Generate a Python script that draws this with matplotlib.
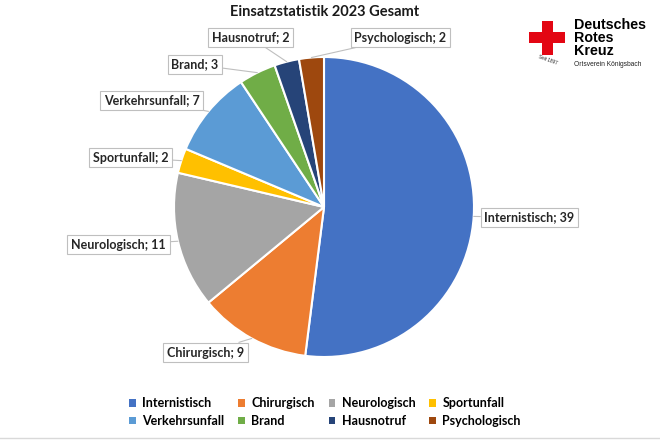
import numpy as np
import matplotlib.pyplot as plt
from matplotlib.patches import Rectangle
from matplotlib.lines import Line2D

plt.rcParams['font.family'] = ['Lato', 'DejaVu Sans']

# data
categories = ["Internistisch", "Chirurgisch", "Neurologisch", "Sportunfall",
              "Verkehrsunfall", "Brand", "Hausnotruf", "Psychologisch"]
counts = [39, 9, 11, 2, 7, 3, 2, 2]
colors = ["#4472C4", "#ED7D31", "#A5A5A5", "#FFC000",
          "#5B9BD5", "#70AD47", "#264478", "#9E480E"]

# label box centres (data units, radius = 1)
label_pos = [(1.37, -0.07), (-0.79, -0.97), (-1.37, -0.25), (-1.29, 0.33),
             (-1.15, 0.71), (-0.86, 0.95), (-0.49, 1.13), (0.51, 1.13)]

fig = plt.figure(figsize=(6.6, 4.4), dpi=100)
ax = fig.add_axes([174 / 660, 83 / 440, 300 / 660, 300 / 440])

wedges, _ = ax.pie(counts, colors=colors, startangle=90, counterclock=False,
                   wedgeprops=dict(edgecolor="white", linewidth=1.5))
ax.set_xlim(-1, 1)
ax.set_ylim(-1, 1)
ax.set_aspect("equal")

for w, cat, n, pos in zip(wedges, categories, counts, label_pos):
    ang = np.deg2rad((w.theta1 + w.theta2) / 2)
    edge = (np.cos(ang), np.sin(ang))
    ax.annotate(f"{cat}; {n}", xy=edge, xytext=pos, ha="center", va="center",
                fontsize=9, fontweight="bold", color="#262626",
                annotation_clip=False,
                bbox=dict(boxstyle="square,pad=0.3", fc="white", ec="#BFBFBF", lw=0.8),
                arrowprops=dict(arrowstyle="-", color="#BFBFBF", lw=0.8,
                                shrinkA=0, shrinkB=0))

fig.text(325 / 660, 1 - 12 / 440, "Einsatzstatistik 2023 Gesamt", ha="center",
         va="center", fontsize=10.5, fontweight="bold", color="#1a1a1a")

# legend fills column-wise, so reorder to read row-wise like the original
order = [0, 4, 1, 5, 2, 6, 3, 7]
handles = [Rectangle((0, 0), 1, 1, fc=colors[i]) for i in order]
labels = [categories[i] for i in order]
fig.legend(handles, labels, ncol=4, loc="center", bbox_to_anchor=(325 / 660, 1 - 412 / 440),
           frameon=False, prop=dict(weight="bold", size=9),
           handlelength=0.55, handleheight=0.55, handletextpad=0.5,
           columnspacing=1.1, labelspacing=0.45)

# logo
red = "#E30613"
fig.add_artist(Rectangle((542 / 660, 1 - 55 / 440), 11 / 660, 34 / 440, fc=red, ec="none"))
fig.add_artist(Rectangle((529 / 660, 1 - 43 / 440), 36 / 660, 11 / 440, fc=red, ec="none"))
fig.text(574 / 660, 1 - 38 / 440, "Deutsches\nRotes\nKreuz", ha="left", va="center",
         fontsize=10.3, fontweight="bold", family="Liberation Sans", color="black",
         linespacing=0.92)
fig.text(574 / 660, 1 - 64 / 440, "Ortsverein Königsbach", ha="left", va="center",
         fontsize=4.8, family="Liberation Sans", color="#222222")
fig.text(548 / 660, 1 - 60 / 440, "Seit 1897", ha="center", va="center",
         fontsize=3.3, family="Liberation Sans", rotation=-20, color="#222222")

fig.add_artist(Line2D([0, 1], [1 - 438 / 440] * 2, color="#D9D9D9", lw=1))

fig.savefig("out.png", dpi=100)
